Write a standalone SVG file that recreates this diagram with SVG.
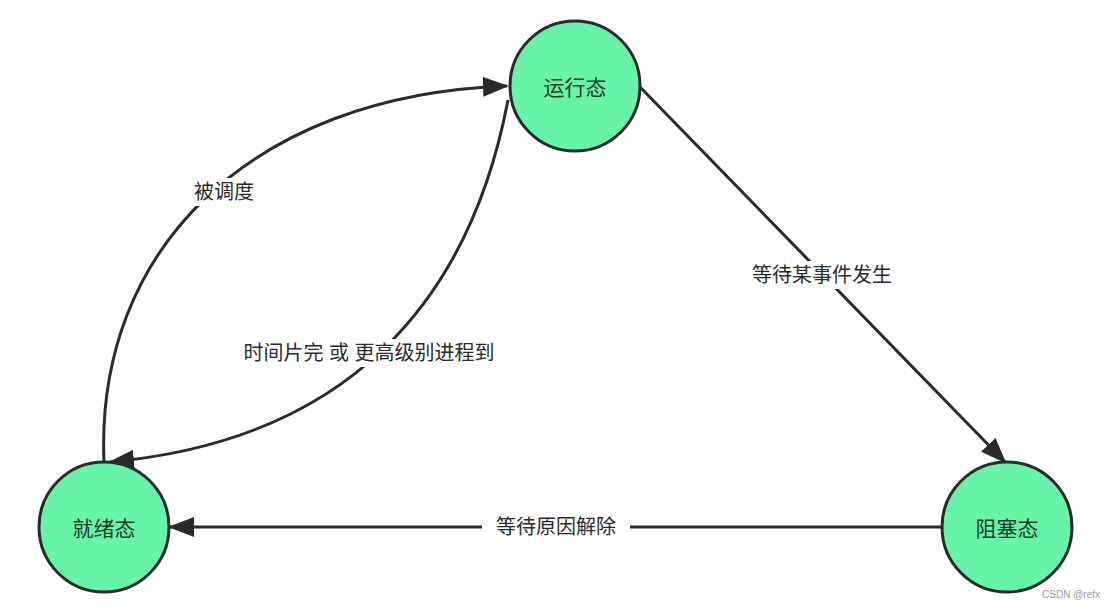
<svg xmlns="http://www.w3.org/2000/svg" width="1114" height="610" viewBox="0 0 1114 610">
<style>
.n{fill:#66f5a8;stroke:#2a2a2a;stroke-width:3}
.t{font-family:"Liberation Sans","Noto Sans CJK SC",sans-serif;font-size:21px;fill:#1d3d2a;text-anchor:middle;dominant-baseline:central}
.e{fill:none;stroke:#2a2a2a;stroke-width:3;marker-end:url(#a)}
.l{font-family:"Liberation Sans","Noto Sans CJK SC",sans-serif;font-size:20px;fill:#2a2a2a;text-anchor:middle;dominant-baseline:central}
</style>
<defs><marker id="a" markerWidth="10" markerHeight="8" refX="9" refY="4" orient="auto" markerUnits="userSpaceOnUse" viewBox="0 0 10 8"><path d="M0,0 L10,4 L0,8z" fill="#2a2a2a"/></marker>
<marker id="b" markerWidth="26" markerHeight="20" refX="24" refY="10" orient="auto" markerUnits="userSpaceOnUse"><path d="M0,0 L26,10 L0,20z" fill="#2a2a2a"/></marker></defs>
<rect width="1114" height="610" fill="#fff"/>
<g id="edges">
<path d="M104,462 C95,250 250,95 507,86" style="fill:none;stroke:#2a2a2a;stroke-width:3" marker-end="url(#b)"/>
<path d="M508,100 C470,300 350,440 110,462" style="fill:none;stroke:#2a2a2a;stroke-width:3" marker-end="url(#b)"/>
<path d="M640,87 L1005,462" style="fill:none;stroke:#2a2a2a;stroke-width:3" marker-end="url(#b)"/>
<path d="M942,527 L170,527" style="fill:none;stroke:#2a2a2a;stroke-width:3" marker-end="url(#b)"/>
<rect x="185" y="178" width="80" height="28" fill="#fff"/><text class="l" x="224" y="192">被调度</text>
<rect x="213" y="339" width="312" height="28" fill="#fff"/><text class="l" x="369" y="353">时间片完 或 更高级别进程到</text>
<rect x="735" y="261" width="174" height="28" fill="#fff"/><text class="l" x="822" y="275">等待某事件发生</text>
<rect x="482" y="513" width="148" height="28" fill="#fff"/><text class="l" x="556" y="527">等待原因解除</text>
</g>
<g id="run"><circle class="n" cx="575" cy="86" r="65"/><text class="t" x="575" y="87">运行态</text></g>
<g id="ready"><circle class="n" cx="104" cy="527" r="65"/><text class="t" x="104" y="528">就绪态</text></g>
<g id="block"><circle class="n" cx="1007" cy="527" r="65"/><text class="t" x="1007" y="528">阻塞态</text></g>
<text x="1100" y="598" style="font-family:'Liberation Sans',sans-serif;font-size:10px;fill:#999;text-anchor:end">CSDN @refx</text>
</svg>
